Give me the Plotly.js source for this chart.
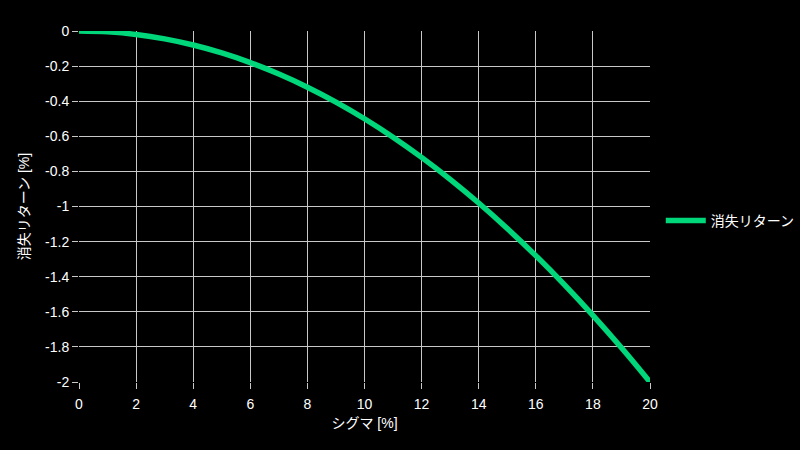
<!DOCTYPE html>
<html>
<head>
<meta charset="utf-8">
<script src="https://cdn.plot.ly/plotly-3.0.1.min.js"></script>
<style>
  html, body { margin: 0; padding: 0; background: #000; }
  #chart { width: 800px; height: 450px; }
</style>
</head>
<body>
<div id="chart"></div>
<script>
// sigma [%] and lost return [%]
const sigma = [0, 1, 2, 3, 4, 5, 6, 7, 8, 9, 10, 11, 12, 13, 14, 15, 16, 17, 18, 19, 20];
const lostReturn = [0, -0.005, -0.02, -0.045, -0.08, -0.125, -0.18, -0.245, -0.32, -0.405, -0.5,
  -0.605, -0.72, -0.845, -0.98, -1.125, -1.28, -1.445, -1.62, -1.805, -2];
const seriesName = '消失リターン';

// y tick labels use a plain hyphen like the original
const yTickVals = [0, -0.2, -0.4, -0.6, -0.8, -1, -1.2, -1.4, -1.6, -1.8, -2];
const yTickText = ['0', '-0.2', '-0.4', '-0.6', '-0.8', '-1', '-1.2', '-1.4', '-1.6', '-1.8', '-2'];

const fam = '"Liberation Sans", Arial, "Noto Sans CJK JP", sans-serif';
const font = { family: fam, size: 14, color: '#fff' };

Plotly.newPlot('chart', [{
  x: sigma,
  y: lostReturn,
  name: seriesName,
  type: 'scatter',
  mode: 'lines',
  line: { color: '#00d67a', width: 5.5, shape: 'spline' },
  cliponaxis: false
}], {
  width: 800,
  height: 450,
  paper_bgcolor: '#000',
  plot_bgcolor: '#000',
  font: font,
  margin: { l: 79, r: 150, t: 31, b: 68 },
  showlegend: true,
  legend: {
    xref: 'container', yref: 'container',
    x: 0.826, y: 0.509, yanchor: 'middle', xanchor: 'left',
    itemwidth: 40,
    font: { family: fam, size: 14, color: '#fff' }
  },
  xaxis: {
    range: [0, 20],
    dtick: 2,
    showgrid: true,
    gridcolor: '#c8c8c8',
    gridwidth: 1,
    zeroline: false,
    showline: false,
    ticks: 'outside',
    ticklen: 6,
    tickcolor: '#c8c8c8',
    ticklabelstandoff: 3,
    title: { text: 'シグマ [%]', font: { size: 14, color: '#fff' }, standoff: 7 }
  },
  yaxis: {
    range: [-2, 0],
    tickmode: 'array',
    tickvals: yTickVals,
    ticktext: yTickText,
    showgrid: true,
    gridcolor: '#c8c8c8',
    gridwidth: 1,
    zeroline: false,
    showline: false,
    ticks: 'outside',
    ticklen: 6,
    tickcolor: '#c8c8c8',
    title: { text: '消失リターン [%]', font: { size: 14, color: '#fff' }, standoff: 12 }
  }
}, { displayModeBar: false });
</script>
</body>
</html>
